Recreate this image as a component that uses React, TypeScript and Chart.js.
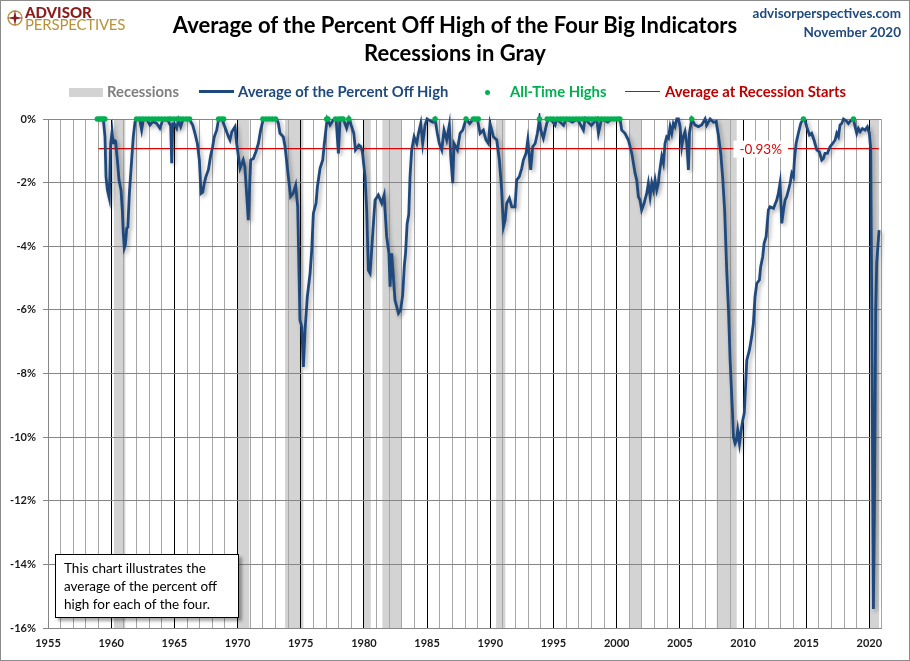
import { useEffect, useRef } from "react";
import { Chart, registerables } from "chart.js";

Chart.register(...registerables);

const FONT = "Lato, 'Liberation Sans', sans-serif";

// recessions (decimal years)
const recessionStarts = [1960.22, 1969.98, 1973.76, 1980.01, 1981.46, 1990.46, 2001.0, 2007.92, 2020.0];
const recessionEnds = [1961.12, 1970.93, 1975.21, 1980.54, 1982.96, 1991.19, 2001.96, 2009.5, 2020.77];

// average of the percent off high (decimal year, %)
const lineYears = [
  1958.9, 1959.38, 1959.51, 1959.59, 1959.7, 1959.85, 1959.96, 1960.07, 1960.15, 1960.22, 1960.35, 1960.49, 1960.62,
  1960.78, 1960.88, 1960.96, 1961.04, 1961.12, 1961.23, 1961.32, 1961.44, 1961.62, 1961.75, 1961.89, 1962.05, 1962.25,
  1962.41, 1962.55, 1962.8, 1963.07, 1963.3, 1963.6, 1963.85, 1964.1, 1964.5, 1964.71, 1964.79, 1964.87, 1965.0,
  1965.18, 1965.32, 1965.5, 1965.7, 1966.1, 1966.25, 1966.45, 1966.63, 1966.82, 1966.98, 1967.11, 1967.24, 1967.37,
  1967.5, 1967.69, 1967.86, 1968.03, 1968.16, 1968.35, 1968.48, 1968.75, 1968.9, 1969.09, 1969.27, 1969.4, 1969.55,
  1969.8, 1969.93, 1970.2, 1970.45, 1970.58, 1970.85, 1971.04, 1971.25, 1971.45, 1971.65, 1971.83, 1972.04, 1972.5,
  1973.1, 1973.23, 1973.36, 1973.62, 1973.76, 1974.02, 1974.2, 1974.4, 1974.6, 1974.76, 1974.94, 1975.08, 1975.21,
  1975.34, 1975.52, 1975.74, 1975.87, 1976.0, 1976.21, 1976.32, 1976.53, 1976.74, 1976.87, 1977.05, 1977.1, 1977.32,
  1977.58, 1977.8, 1977.98, 1978.11, 1978.37, 1978.63, 1978.82, 1979.03, 1979.2, 1979.33, 1979.6, 1979.75, 1979.88,
  1980.09, 1980.22, 1980.35, 1980.49, 1980.7, 1980.88, 1981.14, 1981.41, 1981.6, 1981.8, 1981.98, 1982.07, 1982.2,
  1982.46, 1982.73, 1982.91, 1983.07, 1983.2, 1983.3, 1983.42, 1983.55, 1983.65, 1983.78, 1983.97, 1984.18, 1984.32,
  1984.5, 1984.65, 1984.84, 1985.0, 1985.2, 1985.45, 1985.63, 1985.81, 1985.97, 1986.16, 1986.34, 1986.55, 1986.76,
  1986.87, 1987.03, 1987.13, 1987.4, 1987.61, 1987.82, 1988.08, 1988.37, 1988.66, 1988.98, 1989.19, 1989.45, 1989.66,
  1989.85, 1989.98, 1990.25, 1990.51, 1990.72, 1990.9, 1991.04, 1991.17, 1991.3, 1991.51, 1991.7, 1991.96, 1992.09,
  1992.3, 1992.49, 1992.62, 1992.83, 1992.97, 1993.1, 1993.2, 1993.36, 1993.55, 1993.73, 1993.89, 1994.0, 1994.2,
  1994.47, 1994.6, 1994.87, 1995.13, 1995.26, 1995.8, 1996.0, 1996.5, 1996.9, 1997.37, 1997.5, 1998.0, 1998.43,
  1998.56, 1998.8, 1999.3, 1999.6, 2000.0, 2000.27, 2000.4, 2000.66, 2000.93, 2001.2, 2001.46, 2001.59, 2001.72,
  2001.85, 2001.98, 2002.17, 2002.38, 2002.51, 2002.65, 2002.78, 2002.91, 2003.04, 2003.17, 2003.3, 2003.38, 2003.57,
  2003.7, 2003.83, 2003.96, 2004.1, 2004.23, 2004.36, 2004.49, 2004.62, 2004.76, 2004.89, 2005.02, 2005.15, 2005.28,
  2005.41, 2005.55, 2005.68, 2005.76, 2005.94, 2006.2, 2006.47, 2006.73, 2007.0, 2007.13, 2007.4, 2007.66, 2007.87,
  2008.05, 2008.24, 2008.4, 2008.55, 2008.71, 2008.85, 2008.98, 2009.16, 2009.24, 2009.37, 2009.48, 2009.58, 2009.72,
  2009.82, 2009.98, 2010.1, 2010.3, 2010.51, 2010.69, 2010.82, 2010.95, 2011.09, 2011.3, 2011.4, 2011.56, 2011.67,
  2011.83, 2012.01, 2012.14, 2012.41, 2012.67, 2012.8, 2012.93, 2013.07, 2013.2, 2013.33, 2013.46, 2013.6, 2013.73,
  2013.86, 2013.99, 2014.07, 2014.2, 2014.38, 2014.57, 2014.76, 2014.91, 2015.04, 2015.26, 2015.43, 2015.62, 2015.84,
  2016.04, 2016.23, 2016.36, 2016.49, 2016.68, 2016.89, 2017.1, 2017.29, 2017.42, 2017.55, 2017.68, 2017.81, 2017.95,
  2018.15, 2018.34, 2018.52, 2018.74, 2018.87, 2019.0, 2019.13, 2019.27, 2019.45, 2019.66, 2019.84, 2020.0, 2020.11,
  2020.19, 2020.27, 2020.32, 2020.4, 2020.5, 2020.58, 2020.69, 2020.77,
];
const lineValues = [
  0, 0, -0.56, -1.81, -2.23, -2.49, -0.77, -0.4, -0.75, -0.66, -0.7, -1.29, -1.92,
  -2.23, -2.86, -3.6, -4.05, -3.95, -3.44, -3.4, -2.34, -1.29, -0.56, -0.08, 0, 0,
  -0.35, 0, 0, -0.19, -0.08, -0.14, -0.29, -0.02, -0.05, -0.22, -1.39, -0.15, -0.15,
  -0.29, -0.03, -0.24, 0, 0, -0.05, -0.19, -0.45, -0.77, -1.29, -2.34, -2.3, -2.02,
  -1.81, -1.6, -1.18, -0.87, -0.56, -0.35, -0.05, 0, -0.15, -0.35, -0.55, -0.66, -0.4,
  -0.24, -0.77, -1.55, -1.29, -1.5, -3.18, -1.29, -1.24, -1.03, -0.77, -0.35, 0, 0,
  0, -0.14, -0.45, -0.56, -0.87, -1.81, -2.44, -2.34, -2.08, -2.76, -6.32, -6.53, -7.79,
  -6.64, -5.59, -4.85, -4.12, -2.97, -2.65, -2.13, -1.55, -1.29, -0.77, -0.14, 0, -0.19,
  -0.03, 0, -1.08, -0.03, 0, -0.29, 0, -0.24, -0.45, -0.97, -0.82, -0.87, -1.03,
  -1.81, -2.86, -4.75, -4.85, -3.6, -2.55, -2.39, -2.65, -2.39, -3.7, -4.22, -5.27, -4.22,
  -5.69, -6.11, -6.0, -5.53, -4.6, -4.2, -3.3, -3.0, -1.81, -0.97, -0.56, -0.77, -0.45,
  -0.14, -0.77, -0.19, 0, -0.05, -0.1, 0, -0.45, -0.77, -0.97, -0.35, -0.66, -0.19,
  -1.18, -2.02, -0.77, -0.97, -0.45, -0.35, 0, -0.14, 0, 0, -0.45, -0.35, -0.66,
  -0.77, -0.14, -0.56, -0.66, -1.29, -2.23, -3.39, -3.18, -2.65, -2.49, -2.76, -2.76, -1.92,
  -1.81, -1.55, -1.29, -1.08, -0.66, -1.18, -1.6, -0.87, -0.77, -0.45, 0, -0.35, -0.61,
  -0.14, 0, -0.05, -0.19, 0, -0.2, 0, -0.1, 0, -0.35, 0, -0.2, 0,
  -0.45, 0, -0.1, 0, 0, 0, -0.35, -0.45, -0.66, -1.08, -1.71, -1.92, -2.44,
  -2.55, -2.86, -2.65, -2.34, -2.02, -2.44, -2.02, -2.23, -1.92, -2.23, -2.02, -1.71, -1.18,
  -1.39, -0.77, -0.56, -0.61, -0.24, -0.45, -0.14, -0.24, 0, 0, -0.24, -0.87, -0.56,
  -0.4, -0.77, -1.6, -0.45, 0, -0.19, -0.24, -0.19, 0, -0.19, 0, -0.1, -0.08,
  -0.5, -1.08, -1.9, -2.9, -4.75, -6.0, -7.58, -9.15, -9.99, -10.2, -10.1, -9.78, -10.2,
  -9.88, -9.47, -9.25, -7.58, -7.26, -6.84, -6.43, -5.59, -5.17, -5.06, -4.64, -4.33, -3.91,
  -3.7, -2.86, -2.76, -2.81, -2.55, -2.34, -2.02, -3.28, -2.86, -2.55, -2.44, -2.23, -2.02,
  -1.71, -1.81, -1.29, -0.77, -0.45, -0.14, 0, -0.05, -0.24, -0.5, -0.45, -0.66, -0.97,
  -1.03, -1.29, -1.24, -1.08, -1.08, -0.87, -0.77, -0.66, -0.45, -0.55, -0.19, -0.14, 0,
  -0.05, -0.14, -0.05, 0, -0.24, -0.45, -0.3, -0.4, -0.3, -0.35, -0.25, -0.45, -0.97,
  -6.0, -12.0, -15.4, -12.3, -6.0, -4.54, -3.91, -3.49,
];

// dates where the average sat at an all-time high (value 0)
const athYears = [
  1958.9, 1959.05, 1959.2, 1959.35, 1959.5,
  1962.0, 1962.25, 1962.5, 1962.75, 1963.0, 1963.25, 1963.5, 1963.75, 1964.0, 1964.25, 1964.5, 1964.7,
  1964.95, 1965.2, 1965.45, 1965.7, 1965.95, 1966.2,
  1968.5, 1968.7, 1968.9,
  1972.0, 1972.25, 1972.5, 1972.75, 1973.0,
  1977.05, 1977.15, 1977.75, 1978.0, 1978.2, 1978.35, 1978.8,
  1985.63, 1988.08, 1988.66, 1988.85, 1989.05,
  1993.89, 1994.5, 1994.75, 1995.0,
  1995.3, 1995.55, 1995.8, 1996.05, 1996.3, 1996.55, 1996.8, 1997.05, 1997.3, 1997.55, 1997.8, 1998.05,
  1998.3, 1998.55, 1998.8, 1999.05, 1999.3, 1999.55, 1999.8, 2000.05, 2000.25,
  2005.94, 2014.78, 2018.74,
];

const avgAtRecessionStart = -0.93;
const avgLineYears = [1959.0, 2020.75];
const avgLabelYear = 2011.4;

const yMin = -16;
const yMax = 0;
const xMin = 1955;
const xMax = 2020.92;

const recessionPlugin = {
  id: "recessionBands",
  beforeDraw(chart: any) {
    const { ctx, chartArea, scales } = chart;
    ctx.save();
    ctx.fillStyle = "#d3d3d3";
    recessionStarts.forEach((s, i) => {
      const x1 = scales.x.getPixelForValue(s);
      const x2 = scales.x.getPixelForValue(recessionEnds[i]);
      ctx.fillRect(x1, chartArea.top, x2 - x1, chartArea.bottom - chartArea.top);
    });
    ctx.restore();
  },
  beforeDatasetsDraw(chart: any) {
    // right edge of the plot frame
    const { ctx, chartArea } = chart;
    ctx.save();
    ctx.strokeStyle = "#a6a6a6";
    ctx.lineWidth = 1;
    ctx.beginPath();
    ctx.moveTo(Math.round(chartArea.right) + 0.5, chartArea.top);
    ctx.lineTo(Math.round(chartArea.right) + 0.5, chartArea.bottom);
    ctx.stroke();
    ctx.restore();
  },
};

const shadowPlugin = {
  id: "lineShadow",
  beforeDatasetDraw(chart: any, args: any) {
    if (args.index !== 1) return;
    const ctx = chart.ctx;
    ctx.save();
    ctx.shadowColor = "rgba(0,0,0,0.35)";
    ctx.shadowBlur = 4;
    ctx.shadowOffsetX = 2;
    ctx.shadowOffsetY = 2;
  },
  afterDatasetDraw(chart: any, args: any) {
    if (args.index !== 1) return;
    chart.ctx.restore();
  },
};

const avgLabelPlugin = {
  id: "avgLabel",
  afterDatasetsDraw(chart: any) {
    const { ctx, scales } = chart;
    const x = scales.x.getPixelForValue(avgLabelYear);
    const y = scales.y.getPixelForValue(avgAtRecessionStart);
    const text = avgAtRecessionStart.toFixed(2) + "%";
    ctx.save();
    ctx.font = `13.5px ${FONT}`;
    const w = ctx.measureText(text).width + 12;
    ctx.fillStyle = "#ffffff";
    ctx.fillRect(x - w / 2, y - 8, w, 17);
    ctx.fillStyle = "#e00000";
    ctx.textAlign = "center";
    ctx.textBaseline = "middle";
    ctx.fillText(text, x, y + 1);
    ctx.restore();
  },
};

function PercentOffHighChart() {
  const chartRef = useRef<HTMLCanvasElement>(null);
  const chartInstance = useRef<Chart | null>(null);

  useEffect(() => {
    const canvas = chartRef.current;
    if (!canvas) return;
    if (chartInstance.current) chartInstance.current.destroy();

    chartInstance.current = new Chart(canvas, {
      type: "line",
      data: {
        datasets: [
          {
            label: "All-Time Highs",
            data: athYears.map((x) => ({ x, y: 0 })),
            showLine: false,
            pointRadius: 2.7,
            pointBorderWidth: 0,
            pointBackgroundColor: "#00b050",
            borderColor: "#00b050",
            clip: false,
          },
          {
            label: "Average of the Percent Off High",
            data: lineYears.map((x, i) => ({ x, y: lineValues[i] })),
            borderColor: "#1f497d",
            borderWidth: 2.8,
            pointRadius: 0,
            tension: 0,
            clip: 6,
          },
          {
            label: "Average at Recession Starts",
            data: avgLineYears.map((x) => ({ x, y: avgAtRecessionStart })),
            borderColor: "#e00000",
            borderWidth: 1.2,
            pointRadius: 0,
          },
        ],
      },
      options: {
        responsive: false,
        animation: false,
        layout: { padding: { top: 119, right: 29, left: 0, bottom: 0 } },
        plugins: {
          legend: { display: false },
          tooltip: { enabled: false },
        },
        scales: {
          x: {
            type: "linear",
            min: xMin,
            max: xMax,
            afterFit: (s: any) => {
              s.height = 33;
            },
            ticks: {
              stepSize: 1,
              includeBounds: false,
              autoSkip: false,
              maxRotation: 0,
              minRotation: 0,
              padding: 9,
              color: "#1a1a1a",
              font: { family: FONT, size: 11, weight: "bold" },
              callback: (v: any) => (Number.isInteger(v) && v % 5 === 0 ? String(v) : ""),
            },
            grid: {
              drawTicks: false,
              color: (ctx: any) =>
                ctx.tick && Number.isInteger(ctx.tick.value) && ctx.tick.value % 5 === 0 && ctx.tick.value > xMin
                  ? "#000000"
                  : "#a6a6a6",
            },
            border: { color: "#868686" },
          },
          y: {
            type: "linear",
            min: yMin,
            max: yMax,
            afterFit: (s: any) => {
              s.width = 48;
            },
            ticks: {
              stepSize: 2,
              padding: 7,
              color: "#1a1a1a",
              font: { family: FONT, size: 11, weight: "bold" },
              callback: (v: any) => v + "%",
            },
            grid: { color: "#868686", tickLength: 5 },
            border: { color: "#868686" },
          },
        },
      },
      plugins: [recessionPlugin, shadowPlugin, avgLabelPlugin],
    });

    return () => {
      if (chartInstance.current) {
        chartInstance.current.destroy();
        chartInstance.current = null;
      }
    };
  }, []);

  return <canvas ref={chartRef} width={910} height={661} style={{ position: "absolute", left: 0, top: 0 }} />;
}

const legendText = { position: "absolute" as const, top: 82, fontSize: 14.8, fontWeight: 700, whiteSpace: "nowrap" as const };

export default function App() {
  return (
    <div style={{ position: "relative", width: 910, height: 661, background: "#fff", fontFamily: FONT, overflow: "hidden" }}>
      <style>{`body{margin:0}`}</style>
      <PercentOffHighChart />

      {/* logo */}
      <svg width={18} height={18} viewBox="0 0 18 18" style={{ position: "absolute", left: 6, top: 9 }}>
        <circle cx={9} cy={9} r={7} fill="none" stroke="#b8923a" strokeWidth={1.3} />
        <path d="M9 1 L10.3 7.7 L17 9 L10.3 10.3 L9 17 L7.7 10.3 L1 9 L7.7 7.7 Z" fill="#8b1c1c" />
      </svg>
      <div style={{ position: "absolute", left: 25, top: 6, fontSize: 15, fontWeight: 900, color: "#8b1c1c", lineHeight: "13px" }}>ADVISOR</div>
      <div style={{ position: "absolute", left: 25, top: 18, fontSize: 15, color: "#b8923a", lineHeight: "13px", letterSpacing: -0.2 }}>PERSPECTIVES</div>

      {/* title */}
      <div style={{ position: "absolute", left: 0, top: 11, width: 910, textAlign: "center", fontSize: 22, fontWeight: 700, lineHeight: "28px", color: "#000" }}>
        Average of the Percent Off High of the Four Big Indicators
        <br />
        Recessions in Gray
      </div>

      <div style={{ position: "absolute", right: 9, top: 4, textAlign: "right", fontSize: 13.5, fontWeight: 700, lineHeight: "19px", color: "#1f497d" }}>
        advisorperspectives.com
        <br />
        November 2020
      </div>

      {/* legend */}
      <div style={{ position: "absolute", left: 69, top: 88, width: 34, height: 9, background: "#d3d3d3" }} />
      <div style={{ ...legendText, left: 107, color: "#7f7f7f" }}>Recessions</div>
      <div style={{ position: "absolute", left: 199, top: 90, width: 35, height: 3, background: "#1f497d" }} />
      <div style={{ ...legendText, left: 238, color: "#1f497d" }}>Average of the Percent Off High</div>
      <div style={{ position: "absolute", left: 485, top: 90, width: 5, height: 5, borderRadius: "50%", background: "#00b050" }} />
      <div style={{ ...legendText, left: 510, color: "#00b050" }}>All-Time Highs</div>
      <div style={{ position: "absolute", left: 625, top: 91, width: 35, height: 1.3, background: "#e00000" }} />
      <div style={{ ...legendText, left: 665, color: "#c00000" }}>Average at Recession Starts</div>

      {/* note box */}
      <div
        style={{
          position: "absolute",
          left: 55,
          top: 554,
          width: 184,
          height: 64,
          boxSizing: "border-box",
          border: "1px solid #000",
          background: "#fff",
          boxShadow: "3px 3px 3px rgba(0,0,0,0.35)",
          padding: "4px 0 0 8px",
          fontSize: 13.5,
          lineHeight: "18px",
          color: "#000",
          whiteSpace: "nowrap",
        }}
      >
        This chart illustrates the
        <br />
        average of the percent off
        <br />
        high for each of the four.
      </div>

      <div style={{ position: "absolute", inset: 0, border: "1px solid #8c8c8c", pointerEvents: "none" }} />
    </div>
  );
}
